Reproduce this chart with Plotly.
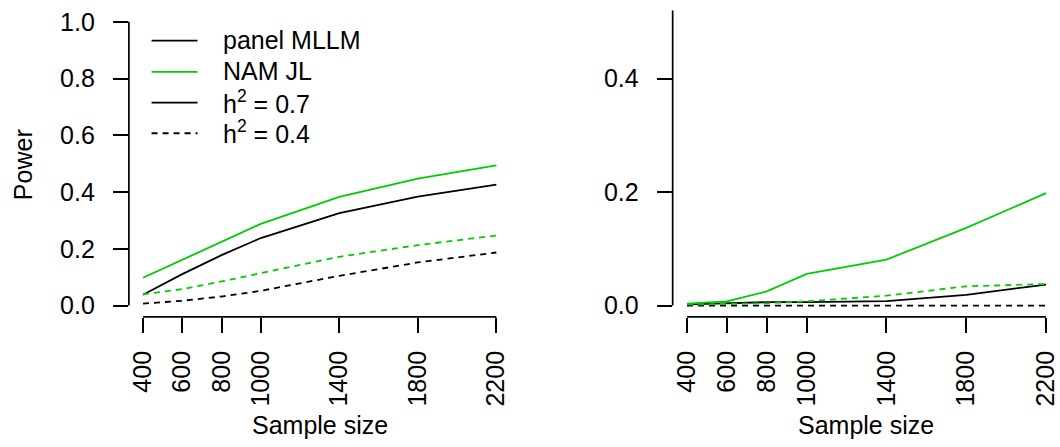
import plotly.graph_objects as go

# ---------------- data ----------------
sample_size = [400, 600, 800, 1000, 1400, 1800, 2200]
x_tick_labels = ["400", "600", "800", "1000", "1400", "1800", "2200"]

left_mllm_h07 = [0.038, 0.111, 0.178, 0.238, 0.326, 0.384, 0.426]
left_namjl_h07 = [0.098, 0.162, 0.225, 0.288, 0.383, 0.447, 0.494]
left_mllm_h04 = [0.007, 0.017, 0.032, 0.052, 0.105, 0.152, 0.187]
left_namjl_h04 = [0.040, 0.058, 0.085, 0.114, 0.172, 0.213, 0.247]

right_mllm_h07 = [0.002, 0.004, 0.006, 0.006, 0.008, 0.019, 0.037]
right_namjl_h07 = [0.0035, 0.0075, 0.025, 0.056, 0.081, 0.137, 0.198]
right_mllm_h04 = [0.0, 0.0, 0.0, 0.0, 0.0, 0.0, 0.0]
right_namjl_h04 = [0.002, 0.003, 0.004, 0.0075, 0.0174, 0.034, 0.038]

left_y_ticks = [0.0, 0.2, 0.4, 0.6, 0.8, 1.0]
right_y_ticks = [0.0, 0.2, 0.4]

legend_labels = ["panel MLLM", "NAM JL", "h<sup>2</sup> = 0.7", "h<sup>2</sup> = 0.4"]

# ---------------- styles ----------------
W, H = 1060, 447
BLACK = "#000000"
GREEN = "#00CD00"
FONT = "Liberation Sans, Arial, Helvetica, sans-serif"
FS = 25
LW = 1.8
DASH = "6px,5px"

fig = go.Figure()

def add(xa, ya, y, color, dash):
    fig.add_trace(go.Scatter(x=sample_size, y=y, mode="lines", xaxis=xa, yaxis=ya,
                             line=dict(color=color, width=LW, dash=dash),
                             showlegend=False, hoverinfo="skip"))

add("x", "y", left_mllm_h07, BLACK, "solid")
add("x", "y", left_namjl_h07, GREEN, "solid")
add("x", "y", left_mllm_h04, BLACK, DASH)
add("x", "y", left_namjl_h04, GREEN, DASH)
add("x2", "y2", right_mllm_h04, BLACK, DASH)
add("x2", "y2", right_mllm_h07, BLACK, "solid")
add("x2", "y2", right_namjl_h04, GREEN, DASH)
add("x2", "y2", right_namjl_h07, GREEN, "solid")

ydom = [(H - 317.5) / H, (H - 7.5) / H]

xcommon = dict(tickvals=sample_size, ticktext=x_tick_labels, ticks="outside",
               ticklen=15, tickwidth=1.7, tickcolor=BLACK, tickangle=-90,
               showgrid=False, zeroline=False, showline=False,
               ticklabelstandoff=8,
               tickfont=dict(family=FONT, size=FS, color=BLACK))
ycommon = dict(ticks="outside", ticklen=15, tickwidth=1.7, tickcolor=BLACK,
               showgrid=False, zeroline=False, showline=False,
               ticklabelstandoff=13,
               tickfont=dict(family=FONT, size=FS, color=BLACK), domain=ydom)

fig.update_layout(
    width=W, height=H, margin=dict(l=0, r=0, t=0, b=0),
    paper_bgcolor="white", plot_bgcolor="white", showlegend=False,
    xaxis=dict(domain=[128 / W, 510 / W], range=[328, 2272], anchor="y", **xcommon),
    yaxis=dict(range=[-0.04, 1.04], tickvals=left_y_ticks,
               ticktext=[f"{v:.1f}" for v in left_y_ticks], anchor="x", **ycommon),
    xaxis2=dict(domain=[672.3 / W, 1.0], range=[328, 2270], anchor="y2", **xcommon),
    yaxis2=dict(range=[-0.02, 0.52], tickvals=right_y_ticks,
                ticktext=[f"{v:.1f}" for v in right_y_ticks], anchor="x2", **ycommon),
)

shapes = []
# axis lines (R style: only between extreme ticks)
shapes.append(dict(type="line", xref="x domain", yref="y", x0=0, x1=0, y0=0, y1=1,
                   line=dict(color=BLACK, width=1.7)))
shapes.append(dict(type="line", xref="x", yref="y domain", x0=400, x1=2200, y0=0, y1=0,
                   line=dict(color=BLACK, width=1.7)))
shapes.append(dict(type="line", xref="x2 domain", yref="y2", x0=0, x1=0, y0=0, y1=0.522,
                   line=dict(color=BLACK, width=1.7)))
shapes.append(dict(type="line", xref="x2", yref="y2 domain", x0=400, x1=2200, y0=0, y1=0,
                   line=dict(color=BLACK, width=1.7)))

# legend
leg_rows = [38.0, 69.7, 100.7, 131.7]
leg_colors = [BLACK, GREEN, BLACK, BLACK]
leg_dash = ["solid", "solid", "solid", DASH]
annotations = []
for lab, yy, col, ds in zip(legend_labels, leg_rows, leg_colors, leg_dash):
    shapes.append(dict(type="line", xref="paper", yref="paper",
                       x0=150.7 / W, x1=196.7 / W, y0=1 - yy / H, y1=1 - yy / H,
                       line=dict(color=col, width=LW, dash=ds)))
    annotations.append(dict(text=lab, xref="paper", yref="paper", x=220 / W, y=1 - (yy - 1) / H,
                            xanchor="left", yanchor="middle", showarrow=False,
                            font=dict(family=FONT, size=FS, color=BLACK)))

# axis titles
annotations.append(dict(text="Power", xref="paper", yref="paper", x=22 / W, y=1 - 163 / H,
                        textangle=-90, showarrow=False, xanchor="center", yanchor="middle",
                        font=dict(family=FONT, size=FS, color=BLACK)))
annotations.append(dict(text="Sample size", xref="paper", yref="paper", x=319 / W, y=1 - 427 / H,
                        showarrow=False, xanchor="center", yanchor="middle",
                        font=dict(family=FONT, size=FS, color=BLACK)))
annotations.append(dict(text="Sample size", xref="paper", yref="paper", x=866 / W, y=1 - 427 / H,
                        showarrow=False, xanchor="center", yanchor="middle",
                        font=dict(family=FONT, size=FS, color=BLACK)))

fig.update_layout(shapes=shapes, annotations=annotations)
fig.write_html("out.html")
